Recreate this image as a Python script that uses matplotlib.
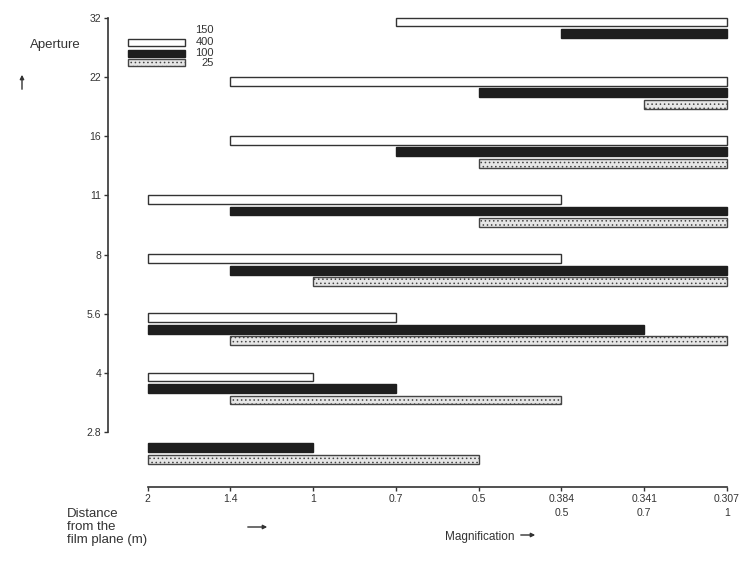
import matplotlib
matplotlib.use('Agg')
import matplotlib.pyplot as plt
import matplotlib.transforms as mtransforms
from matplotlib.patches import Rectangle
import numpy as np

plt.rcParams['font.family'] = ['Liberation Sans', 'DejaVu Sans']
plt.rcParams['hatch.linewidth'] = 0.6

# aperture rows (bottom to top) and distance / magnification columns
apertures = ['2.8', '4', '5.6', '8', '11', '16', '22', '32']
distance_labels = ['2', '1.4', '1', '0.7', '0.5', '0.384', '0.341', '0.307']
magnif_labels = ['', '', '', '', '', '0.5', '0.7', '1']

# bar spans as column indices, None where no bar
lens150_start = [None, 0, 0, 0, 0, 1, 1, 3]
lens150_end = [None, 2, 3, 5, 5, 7, 7, 7]
lens100_start = [0, 0, 0, 1, 1, 3, 4, 5]
lens100_end = [2, 3, 6, 7, 7, 7, 7, 7]
lens25_start = [0, 1, 1, 2, 4, 4, 6, None]
lens25_end = [4, 5, 7, 7, 7, 7, 7, None]

legend_labels = ['150', '400', '100', '25']

W, H = 743, 566
fig = plt.figure(figsize=(W / 100, H / 100), dpi=100)
ax = fig.add_axes([108 / W, (H - 487) / H, (731 - 108) / W, (487 - 12) / H])

ink = '#333333'
styles = [
    dict(facecolor='white', edgecolor=ink, linewidth=1.0),
    dict(facecolor='#1e1e1e', edgecolor='#1e1e1e', linewidth=1.0),
    dict(facecolor='#e6e6e6', edgecolor='#444444', linewidth=1.0, hatch='....'),
]
offsets = [0.07, 0.265, 0.46]
bar_h = 0.15

series = [(lens150_start, lens150_end), (lens100_start, lens100_end), (lens25_start, lens25_end)]
y = np.arange(len(apertures))
for k, (starts, ends) in enumerate(series):
    for i in range(len(apertures)):
        if starts[i] is None:
            continue
        ax.barh(y[i] - offsets[k], ends[i] - starts[i], left=starts[i],
                height=bar_h, **styles[k])

ax.set_xlim(-0.48, 7.05)
ax.set_ylim(-0.93, 7.1)

ax.set_xticks(np.arange(len(distance_labels)))
ax.set_xticklabels(distance_labels, fontsize=7.5, color=ink)
ax.set_yticks(y)
ax.set_yticklabels(apertures, fontsize=7.5, color=ink)
ax.tick_params(direction='out', length=3, width=1, color=ink, pad=2)

for s in ['top', 'right']:
    ax.spines[s].set_visible(False)
ax.spines['left'].set_bounds(0, 7)
ax.spines['bottom'].set_bounds(0, 7)
for s in ['left', 'bottom']:
    ax.spines[s].set_linewidth(1.2)
    ax.spines[s].set_color(ink)

# magnification row under the last three columns
trans = mtransforms.blended_transform_factory(ax.transData, ax.transAxes)
for i, lab in enumerate(magnif_labels):
    if lab:
        ax.text(i, -0.045, lab, transform=trans, ha='center', va='top',
                fontsize=7.5, color=ink)

# legend, drawn by hand so the numbers sit right-aligned
def px(x, yy):
    return x / W, 1 - yy / H

leg_rows = [30, 42, 53, 63]
for j, lab in enumerate(legend_labels):
    fig.text(*px(214, leg_rows[j]), lab, fontsize=8, color=ink, ha='right', va='center')
    if j > 0:
        x0, y0 = px(128, leg_rows[j] + 3.5)
        fig.add_artist(Rectangle((x0, y0), 57 / W, 7 / H, transform=fig.transFigure,
                                 **styles[j - 1]))

# axis titles
fig.text(*px(30, 45), 'Aperture', fontsize=9.5, color=ink, va='center')
plt.annotate('', xy=px(22, 72), xytext=px(22, 92), xycoords='figure fraction',
             arrowprops=dict(arrowstyle='-|>', color=ink, lw=1, mutation_scale=6))

fig.text(*px(67, 508), 'Distance\nfrom the\nfilm plane (m)', fontsize=9.5,
         color=ink, va='top', linespacing=1.1)
plt.annotate('', xy=px(270, 527), xytext=px(245, 527), xycoords='figure fraction',
             arrowprops=dict(arrowstyle='-|>', color=ink, lw=1, mutation_scale=6))
fig.text(*px(445, 537), 'Magnification', fontsize=8.5, color=ink, va='center')
plt.annotate('', xy=px(538, 535), xytext=px(518, 535), xycoords='figure fraction',
             arrowprops=dict(arrowstyle='-|>', color=ink, lw=1, mutation_scale=6))

fig.savefig('out.png', dpi=100)
